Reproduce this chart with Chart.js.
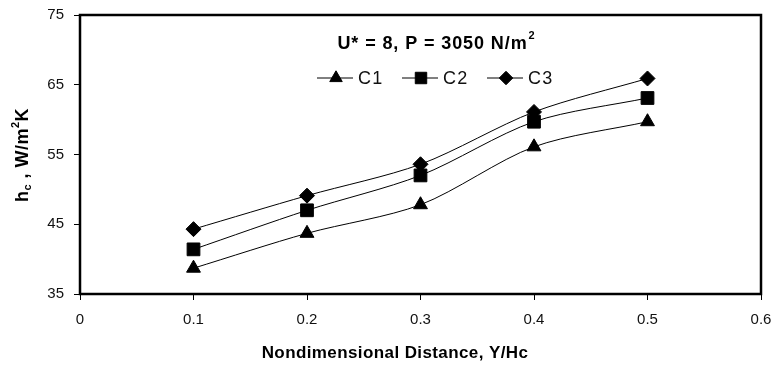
<!DOCTYPE html>
<html>
<head>
<meta charset="utf-8">
<script src="https://cdn.jsdelivr.net/npm/chart.js@4.4.1/dist/chart.umd.min.js"></script>
<style>
  html, body { margin: 0; padding: 0; background: #fff; }
  #wrap { width: 771px; height: 365px; }
</style>
</head>
<body>
<div id="wrap"><canvas id="c" width="771" height="365"></canvas></div>
<script>
// ---- data ----
const xValues = [0.1, 0.2, 0.3, 0.4, 0.5];
const c1Values = [38.7, 43.7, 47.8, 56.1, 59.7];
const c2Values = [41.4, 47.0, 52.0, 59.7, 63.1];
const c3Values = [44.3, 49.1, 53.6, 61.1, 65.9];
const seriesNames = ['C1', 'C2', 'C3'];
const xTickValues = [0, 0.1, 0.2, 0.3, 0.4, 0.5, 0.6];
const xTickLabels = ['0', '0.1', '0.2', '0.3', '0.4', '0.5', '0.6'];
const yTickValues = [35, 45, 55, 65, 75];
const yTickLabels = ['35', '45', '55', '65', '75'];
const titleMain = 'U* = 8, P = 3050 N/m';
const titleSup = '2';
const xTitle = 'Nondimensional Distance, Y/Hc';

const styles = ['triangle', 'rect', 'rectRot'];
const radii = [8, 9, 7.5];

function mk(vals, i) {
  return {
    label: seriesNames[i],
    data: xValues.map((x, k) => ({ x: x, y: vals[k] })),
    borderColor: '#000',
    backgroundColor: '#000',
    borderWidth: 1,
    pointStyle: styles[i],
    pointRadius: radii[i],
    pointBorderWidth: 1,
    pointBackgroundColor: '#000',
    pointBorderColor: '#000',
    tension: 0.3,
    fill: false
  };
}

const FAM = '"Liberation Sans", Arial, sans-serif';

const overlay = {
  id: 'overlay',
  afterDraw(chart) {
    const ctx = chart.ctx;
    const a = chart.chartArea;
    ctx.save();
    // frame
    ctx.strokeStyle = '#000';
    ctx.lineWidth = 2.5;
    ctx.strokeRect(a.left, a.top, a.right - a.left, a.bottom - a.top);

    // title with superscript
    ctx.fillStyle = '#000';
    ctx.textBaseline = 'alphabetic';
    ctx.textAlign = 'left';
    ctx.letterSpacing = '0.9px';
    ctx.font = 'bold 18px ' + FAM;
    const w1 = ctx.measureText(titleMain).width;
    ctx.font = 'bold 11px ' + FAM;
    const w2 = ctx.measureText(titleSup).width;
    const cx = 436;
    let tx = cx - (w1 + w2) / 2;
    ctx.font = 'bold 18px ' + FAM;
    ctx.fillText(titleMain, tx, 49);
    ctx.font = 'bold 11px ' + FAM;
    ctx.fillText(titleSup, tx + w1 + 1, 39);

    // legend
    const legStart = 317;
    const spacing = 85;
    const ly = 78;
    ctx.letterSpacing = '1.2px';
    ctx.font = '18px ' + FAM;
    ctx.textBaseline = 'middle';
    for (let i = 0; i < 3; i++) {
      const x0 = legStart + i * spacing;
      ctx.beginPath();
      ctx.lineWidth = 1;
      ctx.moveTo(x0, ly);
      ctx.lineTo(x0 + 36, ly);
      ctx.stroke();
      ctx.fillStyle = '#000';
      Chart.helpers.drawPoint(ctx, { pointStyle: styles[i], radius: radii[i] * 0.9, borderWidth: 1 }, x0 + 19, ly);
      ctx.fillStyle = '#111';
      ctx.fillText(seriesNames[i], x0 + 41, ly + 1);
    }

    // x axis title
    ctx.fillStyle = '#000';
    ctx.letterSpacing = '0.4px';
    ctx.font = 'bold 17px ' + FAM;
    ctx.textAlign = 'center';
    ctx.textBaseline = 'alphabetic';
    ctx.fillText(xTitle, 395, 358);

    // y axis title (rotated) : h_c , W/m^2 K
    ctx.translate(28, 155);
    ctx.rotate(-Math.PI / 2);
    ctx.letterSpacing = '0.5px';
    const big = 'bold 18px ' + FAM;
    const small = 'bold 11px ' + FAM;
    const parts = [
      { t: 'h', f: big, dy: 0 },
      { t: 'c', f: small, dy: 3 },
      { t: ' , W/m', f: big, dy: 0 },
      { t: '2', f: small, dy: -9 },
      { t: 'K', f: big, dy: 0 }
    ];
    let total = 0;
    parts.forEach(p => { ctx.font = p.f; p.w = ctx.measureText(p.t).width; total += p.w; });
    let px = -total / 2;
    ctx.textAlign = 'left';
    parts.forEach(p => { ctx.font = p.f; ctx.fillText(p.t, px, p.dy); px += p.w; });
    ctx.restore();
  }
};

new Chart(document.getElementById('c'), {
  type: 'scatter',
  data: { datasets: [mk(c1Values, 0), mk(c2Values, 1), mk(c3Values, 2)] },
  options: {
    responsive: false,
    animation: false,
    showLine: true,
    layout: { padding: { left: 0, right: 9, top: 15, bottom: 0 } },
    plugins: { legend: { display: false }, tooltip: { enabled: false }, title: { display: false } },
    scales: {
      x: {
        type: 'linear',
        min: 0, max: 0.6,
        afterBuildTicks(s) { s.ticks = xTickValues.map(v => ({ value: v })); },
        afterFit(s) { s.height = 71; s.paddingLeft = 0; s.paddingRight = 0; },
        grid: { display: true, drawOnChartArea: false, drawTicks: true, tickLength: 6, color: '#000', lineWidth: 1 },
        border: { display: true, color: '#000', width: 2 },
        ticks: {
          color: '#111',
          padding: 11,
          font: { family: FAM, size: 15 },
          callback(v, i) { return xTickLabels[i]; }
        }
      },
      y: {
        type: 'linear',
        min: 35, max: 75,
        afterBuildTicks(s) { s.ticks = yTickValues.map(v => ({ value: v })); },
        afterFit(s) { s.width = 80; s.paddingTop = 0; s.paddingBottom = 0; },
        grid: { display: true, drawOnChartArea: false, drawTicks: true, tickLength: 6, color: '#000', lineWidth: 1 },
        border: { display: true, color: '#000', width: 2 },
        ticks: {
          color: '#111',
          padding: 10,
          font: { family: FAM, size: 15 },
          callback(v, i) { return yTickLabels[i]; }
        }
      }
    }
  },
  plugins: [overlay]
});
</script>
</body>
</html>
